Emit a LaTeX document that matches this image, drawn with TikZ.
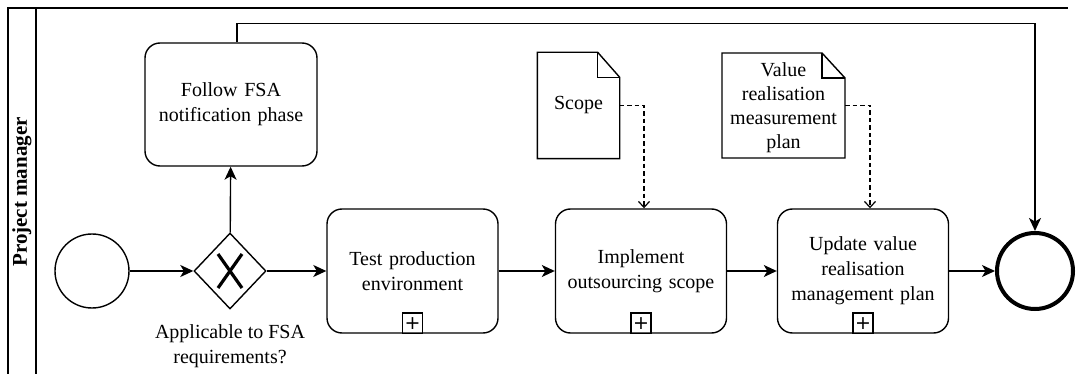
\documentclass[tikz,border=0pt]{standalone}
\usepackage{fontspec}
\setmainfont{Liberation Serif}
\newfontfamily\markerfont{DejaVu Sans}
\usetikzlibrary{arrows.meta,shapes.geometric}

\begin{document}
\begin{tikzpicture}[x=1pt,y=-1pt,line width=1.4pt,
  txt/.style={font=\fontsize{20}{25}\selectfont,align=center},
  task/.style={txt,draw,rounded corners=15pt,minimum width=171pt,
    minimum height=124pt,text width=160pt,inner sep=0pt},
  submark/.style={draw,minimum size=20pt,inner sep=0pt,line width=1.2pt,
    anchor=south,font=\markerfont\fontsize{19}{19}\selectfont},
  doc/.style={txt,inner sep=0pt,font=\fontsize{20}{24}\selectfont},
  flow/.style={-{Stealth[length=13pt,width=12pt,inset=3.5pt]}},
  assoc/.style={dash pattern=on 4.5pt off 3pt,line width=1.2pt,
    -{Straight Barb[length=6pt,width=11pt]}},
  event/.style={draw,circle,minimum size=74pt,inner sep=0pt}]
\useasboundingbox (0,0) rectangle (1077,374);

% pool and lane frame
\draw (8,374) -- (8,8) -- (1068,8);
\draw (36,8) -- (36,374);
\node[rotate=90,font=\fontsize{21}{24}\selectfont\bfseries] (lane) at (22,192) {Project manager};

% events and gateway
\node[event] (start) at (92,271) {};
\node[event,minimum size=76pt,line width=4pt] (end) at (1035,271) {};
\node[draw,diamond,minimum width=72pt,minimum height=76pt,inner sep=0pt] (gw) at (230,271) {};
\draw[line width=3.2pt] ([shift={(-12pt,17pt)}]gw.center) -- ([shift={(12pt,-17pt)}]gw.center)
  ([shift={(-12pt,-17pt)}]gw.center) -- ([shift={(12pt,17pt)}]gw.center);
\node[txt,anchor=north] (gwlabel) at (230,321) {Applicable to FSA\\requirements?};

% tasks
\node[task,minimum width=172pt,minimum height=123pt] (fsa) at (231,104.5) {Follow FSA\\notification phase};
\node[task] (test) at (412.5,271) {Test production\\environment};
\node[task] (impl) at (641,271) {Implement\\outsourcing scope};
\node[task] (upd) at (863,271) {Update value\\realisation\\management plan};
\node[submark] (testplus) at (test.south) {+};
\node[submark] (implplus) at (impl.south) {+};
\node[submark] (updplus) at (upd.south) {+};

% data objects
\node[doc,minimum width=81pt,minimum height=105pt] (scope) at (578.5,105.5) {Scope};
\node[doc,minimum width=123pt,minimum height=105pt] (vrmp) at (783.5,107.5) {Value\\realisation\\measurement\\plan};
\draw (scope.north west) -- ([xshift=-22pt]scope.north east) -- ([yshift=-25pt]scope.north east)
  -- (scope.south east) -- (scope.south west) -- cycle;
\draw ([xshift=-22pt]scope.north east) |- ([yshift=-25pt]scope.north east);
\coordinate (vrmpnw) at (722,53);
\coordinate (vrmpse) at (845,158);
\draw (vrmpnw) -- (822,53) -- (845,78) -- (vrmpse) -- (722,158) -- cycle;
\draw (822,53) |- (845,78);

% sequence flows
\draw[flow] (start) -- (gw);
\draw[flow] (gw) -- (test);
\draw[flow] (gw) -- (fsa);
\draw[flow] (test) -- (impl);
\draw[flow] (impl) -- (upd);
\draw[flow] (upd) -- (end);
\draw[flow] ([xshift=6pt]fsa.north) -- ++(0,-19) -| (end.north);

% associations
\draw[assoc] (scope.east) -| ([xshift=3pt]impl.north);
\draw[assoc] (vrmpse |- scope.east) -| ([xshift=7pt]upd.north);
\end{tikzpicture}
\end{document}
